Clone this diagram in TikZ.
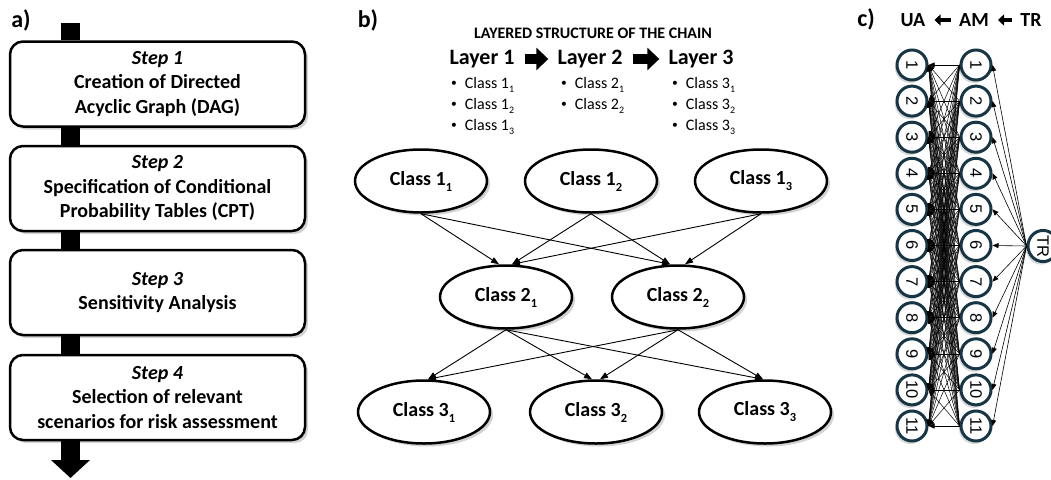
\documentclass[tikz,border=0pt]{standalone}
\usepackage{fontspec}
\usepackage{graphicx}
\setmainfont{Carlito}
\newfontfamily\arialf{Liberation Sans}
\usetikzlibrary{arrows.meta,shapes.geometric,shadows}
\definecolor{ringcol}{RGB}{23,54,69}
\newcommand\sbs[1]{\raisebox{-0.3em}{\scalebox{0.62}{#1}}}
\newcommand\bul{\raisebox{0.12em}{\scalebox{0.72}{\textbullet}}\hspace{8pt}}
\begin{document}
\begin{tikzpicture}[x=1pt,y=-1pt,
  shad/.style={drop shadow={opacity=0.35,shadow xshift=3pt,shadow yshift=-3pt}},
  stepbox/.style={draw,line width=2.5pt,rounded corners=13pt,fill=white,
    minimum width=295pt,minimum height=85pt,align=center,inner sep=0pt,
    font=\fontsize{20}{24.5}\selectfont\bfseries,shad},
  bar/.style={line width=19pt},
  panel/.style={font=\fontsize{24}{28}\selectfont\bfseries,inner sep=0pt},
  cls/.style={ellipse,draw,line width=2.5pt,fill=white,minimum width=132pt,
    minimum height=63pt,inner sep=0pt,font=\fontsize{20}{24}\selectfont\bfseries,shad},
  layer/.style={font=\fontsize{22}{26}\selectfont\bfseries,inner sep=0pt},
  item/.style={font=\fontsize{16}{20}\selectfont,inner sep=0pt,anchor=base west},
  blockarrow/.style={line width=10pt,-{Triangle[width=22pt,length=12pt]}},
  dag/.style={line width=0.9pt,-{Triangle[width=6pt,length=8pt]}},
  numnode/.style={ellipse,draw=ringcol,line width=3pt,fill=white,
    minimum width=30pt,minimum height=30pt,inner sep=0pt,
    font=\arialf\fontsize{16.5}{16.5}\selectfont,
    drop shadow={opacity=0.3,shadow xshift=-2pt,shadow yshift=-3pt}},
  hdr/.style={font=\fontsize{20}{24}\selectfont\bfseries,inner sep=0pt},
  harrow/.style={line width=4.5pt,-{Triangle[width=11pt,length=6pt]}},
  ed/.style={line width=0.5pt,-{Triangle[width=5pt,length=6pt]}},
  tred/.style={line width=0.6pt,-{Triangle[width=5pt,length=6pt]}}
]
\useasboundingbox (0,0) rectangle (1051,479);

% ---------------- panel a ----------------
\node[panel] (pa) at (21,20) {a)};
\node[stepbox] (b1) at (157.5,84) {\textit{Step 1}\\Creation of Directed\\Acyclic Graph (DAG)};
\node[stepbox] (b2) at (157.5,188.5) {\textit{Step 2}\\Specification of Conditional\\Probability Tables (CPT)};
\node[stepbox] (b3) at (157.5,292.5) {\textit{Step 3}\\Sensitivity Analysis};
\node[stepbox] (b4) at (157.5,397.5) {\textit{Step 4}\\Selection of relevant\\scenarios for risk assessment};
\coordinate (top) at (70.5,23);
\coordinate (bend) at (70.5,478);
\draw[bar] (top) -- (top |- b1.north);
\draw[bar] (top |- b1.south) -- (top |- b2.north);
\draw[bar] (top |- b2.south) -- (top |- b3.north);
\draw[bar] (top |- b3.south) -- (top |- b4.north);
\draw[line width=19pt,-{Triangle[width=38pt,length=18pt]}] (top |- b4.south) -- (bend);

% ---------------- panel b ----------------
\node[panel] (pb) at (368,20) {b)};
\node[font=\fontsize{16}{19}\selectfont\bfseries,inner sep=0pt] (title) at (593,33) {LAYERED STRUCTURE OF THE CHAIN};
\node[layer] (L1) at (482,59) {Layer 1};
\node[layer] (L2) at (590,59) {Layer 2};
\node[layer] (L3) at (701,59) {Layer 3};
\draw[blockarrow,shorten <=10pt,shorten >=9pt] (L1.east) -- (L2.west);
\draw[blockarrow,shorten <=10pt,shorten >=9pt] (L2.east) -- (L3.west);

\node[item] (i11) at (451,88) {\bul Class 1\sbs{1}};
\node[item] (i12) at (451,109) {\bul Class 1\sbs{2}};
\node[item] (i13) at (451,130) {\bul Class 1\sbs{3}};
\node[item] (i21) at (561,88) {\bul Class 2\sbs{1}};
\node[item] (i22) at (561,109) {\bul Class 2\sbs{2}};
\node[item] (i31) at (672,88) {\bul Class 3\sbs{1}};
\node[item] (i32) at (672,109) {\bul Class 3\sbs{2}};
\node[item] (i33) at (672,130) {\bul Class 3\sbs{3}};

\node[cls] (c11) at (421,181) {Class 1\sbs{1}};
\node[cls] (c12) at (591,181) {Class 1\sbs{2}};
\node[cls] (c13) at (761,181) {Class 1\sbs{3}};
\node[cls] (c21) at (506,297) {Class 2\sbs{1}};
\node[cls] (c22) at (678,297) {Class 2\sbs{2}};
\node[cls] (c31) at (424,412) {Class 3\sbs{1}};
\node[cls] (c32) at (596,412) {Class 3\sbs{2}};
\node[cls] (c33) at (765,412) {Class 3\sbs{3}};

\draw[dag] (c11.south) -- ([xshift=-7pt]c21.north);
\draw[dag] (c12.south) -- ([xshift=6pt]c21.north);
\draw[dag] (c13.south) -- ([xshift=6pt]c21.north);
\draw[dag] (c11.south) -- ([xshift=-8pt]c22.north);
\draw[dag] (c12.south) -- ([xshift=-8pt]c22.north);
\draw[dag] (c13.south) -- ([xshift=7pt]c22.north);
\draw[dag] (c21.south) -- ([xshift=4pt]c31.north);
\draw[dag] (c21.south) -- ([xshift=-4pt]c32.north);
\draw[dag] (c21.south) -- ([xshift=-2pt]c33.north);
\draw[dag] (c22.south) -- ([xshift=4pt]c31.north);
\draw[dag] (c22.south) -- ([xshift=4pt]c32.north);
\draw[dag] (c22.south) -- ([xshift=-2pt]c33.north);

% ---------------- panel c ----------------
\node[panel] (pc) at (866,19) {c)};
\node[hdr] (hua) at (913,20) {UA};
\node[hdr] (ham) at (974,20) {AM};
\node[hdr] (htr) at (1031,20) {TR};
\draw[harrow,shorten <=8pt,shorten >=9pt] (ham.west) -- (hua.east);
\draw[harrow,shorten <=8pt,shorten >=9pt] (htr.west) -- (ham.east);

\foreach \i in {1,...,11}{
  \pgfmathsetmacro\yy{65+36.1*(\i-1)}
  \node[numnode] (u\i) at (912,\yy) {\rotatebox{-90}{\i}};
  \node[numnode] (a\i) at (976,\yy) {\rotatebox{-90}{\i}};
}
\node[numnode] (tr) at (1043,246) {\rotatebox{-90}{TR}};
\foreach \i in {1,...,11}{
  \foreach \j in {1,...,11}{
    \draw[ed] (a\i.west) -- (u\j.east);
  }
  \draw[tred] (tr.west) -- (a\i.east);
}
\end{tikzpicture}
\end{document}
